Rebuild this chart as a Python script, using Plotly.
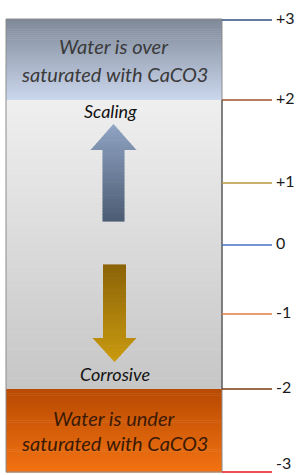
import plotly.graph_objects as go
import numpy as np

# ---- data ----
levels = ["+3", "+2", "+1", "0", "-1", "-2", "-3"]
level_pos = [20, 100, 183, 245, 314, 389, 472]  # position of each index level on the gauge
level_colors = ["#2E4F7E", "#A0522D", "#B8963C", "#4472C4", "#E07B45", "#7A3A10", "#E8141A"]
zone_top_text = ["Water is over", "saturated with CaCO3"]
zone_bottom_text = ["Water is under", "saturated with CaCO3"]
arrow_up_label = "Scaling"
arrow_down_label = "Corrosive"

W, H = 301, 475
BOX_L, BOX_R = 6, 222


def hex2rgb(h):
    h = h.lstrip("#")
    return np.array([int(h[i:i + 2], 16) for i in (0, 2, 4)], dtype=float)


def mix(c1, c2, t):
    a, b = hex2rgb(c1), hex2rgb(c2)
    c = a + (b - a) * t
    return "rgb(%d,%d,%d)" % tuple(np.round(c).astype(int))


shapes = []


def grad_rect(x0, x1, y0, y1, ctop, cbot, n=40):
    step = (y1 - y0) / n
    for i in range(n):
        t = i / (n - 1)
        shapes.append(dict(type="rect", xref="x", yref="y", x0=x0, x1=x1,
                           y0=y0 + i * step, y1=y0 + (i + 1) * step + 0.6,
                           fillcolor=mix(ctop, cbot, t), line=dict(width=0), layer="below"))


# zones (top, middle, bottom) bounded by the +3,+2,-2,-3 levels
grad_rect(BOX_L, BOX_R, level_pos[0] - 1, level_pos[1], "#7F8999", "#CAD6EC")
grad_rect(BOX_L, BOX_R, level_pos[1], level_pos[5], "#EFEFEF", "#C6C6C6", n=80)
grad_rect(BOX_L, BOX_R, level_pos[5], level_pos[6], "#B84A02", "#F27212")

# box outline
shapes.append(dict(type="rect", xref="x", yref="y", x0=BOX_L, x1=BOX_R,
                   y0=level_pos[0] - 1, y1=level_pos[6],
                   line=dict(color="#8C8C8C", width=1), fillcolor="rgba(0,0,0,0)"))
shapes.append(dict(type="line", xref="x", yref="y", x0=BOX_R, x1=BOX_R,
                   y0=level_pos[1], y1=level_pos[5], line=dict(color="#555555", width=1.2)))


def arrow(cx, tip, head_base, tail, head_w, shaft_w, ctip, ctail, n=30):
    # draw arrow as stacked stripes from tip to tail
    direction = 1 if tail > tip else -1
    total = abs(tail - tip)
    hl = abs(head_base - tip)

    def half(y):
        d = abs(y - tip)
        if d <= hl:
            return head_w / 2 * d / hl
        return shaft_w / 2

    for i in range(n):
        a = tip + direction * total * i / n
        b = tip + direction * total * (i + 1) / n + direction * 0.6
        t = i / (n - 1)
        col = mix(ctip, ctail, t)
        if min(a, b) < head_base < max(a, b):
            left = [(cx - half(a), a), (cx - head_w / 2, head_base), (cx - shaft_w / 2, head_base), (cx - shaft_w / 2, b)]
            right = [(cx + half(a), a), (cx + head_w / 2, head_base), (cx + shaft_w / 2, head_base), (cx + shaft_w / 2, b)]
        else:
            left = [(cx - half(a), a), (cx - half(b), b)]
            right = [(cx + half(a), a), (cx + half(b), b)]
        pts = left + right[::-1]
        path = "M " + " L ".join("%.2f,%.2f" % p for p in pts) + " Z"
        shapes.append(dict(type="path", xref="x", yref="y", path=path,
                           fillcolor=col, line=dict(width=0)))


arrow(113.5, 124, 150, 221, 46, 22, "#8EA2C2", "#4D5D74")
arrow(114.5, 362, 338, 265, 44, 23, "#C9990E", "#8C6408")

# level lines
fig = go.Figure()
for lab, y, c in zip(levels, level_pos, level_colors):
    shapes.append(dict(type="line", xref="x", yref="y", x0=BOX_R, x1=272, y0=y, y1=y,
                       line=dict(color=c, width=1.5)))

# keep the lowest label fully inside the page
label_y = [min(y, H - 10) for y in level_pos]
fig.add_trace(go.Scatter(x=[276] * len(levels), y=label_y, mode="text", text=levels,
                         textposition="middle right", hoverinfo="skip",
                         textfont=dict(family="Lato", size=16, color="#1A1A1A")))

ann = []
font_it = dict(family="Lato", size=20, color="#3A3A3A")
for i, t in enumerate(zone_top_text):
    ann.append(dict(x=114, y=[46, 74][i], text="<i>%s</i>" % t, showarrow=False,
                    xref="x", yref="y", font=font_it))
for i, t in enumerate(zone_bottom_text):
    ann.append(dict(x=114, y=[418, 443][i], text="<i>%s</i>" % t, showarrow=False,
                    xref="x", yref="y", font=dict(family="Lato", size=20, color="#3B1A05")))
ann.append(dict(x=110, y=111, text="<i>%s</i>" % arrow_up_label, showarrow=False,
                xref="x", yref="y", font=dict(family="Lato", size=18, color="#111111")))
ann.append(dict(x=115, y=374, text="<i>%s</i>" % arrow_down_label, showarrow=False,
                xref="x", yref="y", font=dict(family="Lato", size=18, color="#111111")))

fig.update_layout(
    width=W, height=H, margin=dict(l=0, r=0, t=0, b=0),
    paper_bgcolor="white", plot_bgcolor="white",
    xaxis=dict(range=[0, W], visible=False, fixedrange=True),
    yaxis=dict(range=[H, 0], visible=False, fixedrange=True),
    shapes=shapes, annotations=ann, showlegend=False,
)
fig.write_html("out.html", config={"displayModeBar": False},
               post_script="document.body.style.margin='0';document.body.style.overflow='hidden';")
